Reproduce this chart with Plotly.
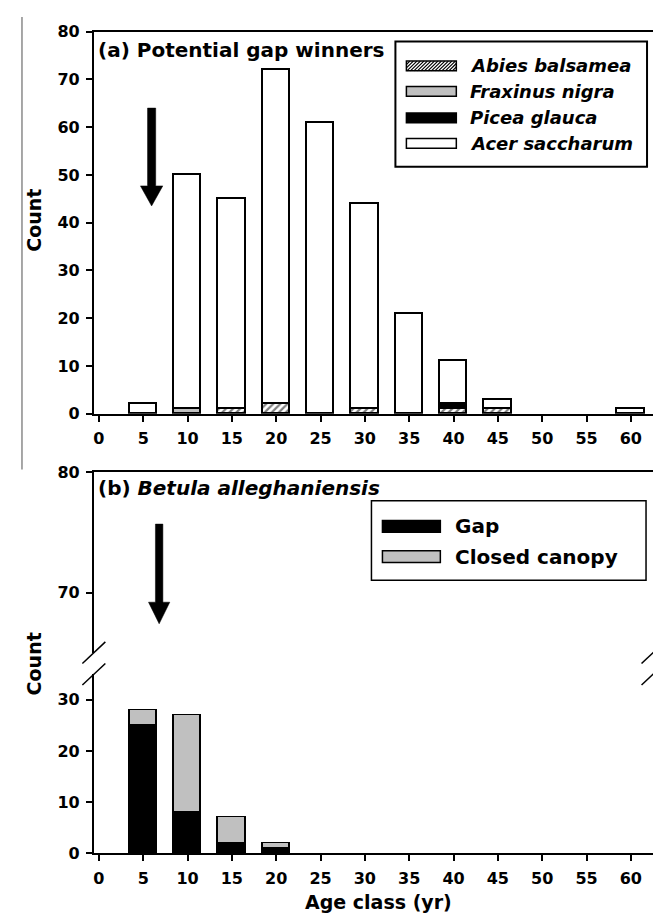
import plotly.graph_objects as go

# ---------------- data ----------------
age_classes = [5, 10, 15, 20, 25, 30, 35, 40, 45, 50, 55, 60]
x_ticks = [0, 5, 10, 15, 20, 25, 30, 35, 40, 45, 50, 55, 60]

abies_balsamea = [0, 0, 1, 2, 0, 1, 0, 1, 1, 0, 0, 0]
fraxinus_nigra = [0, 1, 0, 0, 0, 0, 0, 0, 0, 0, 0, 0]
picea_glauca = [0, 0, 0, 0, 0, 0, 0, 1, 0, 0, 0, 0]
acer_saccharum = [2, 49, 44, 70, 61, 43, 21, 9, 2, 0, 0, 1]

betula_gap = [25, 8, 2, 1, 0, 0, 0, 0, 0, 0, 0, 0]
betula_closed = [3, 19, 5, 1, 0, 0, 0, 0, 0, 0, 0, 0]

top_y_ticks = [0, 10, 20, 30, 40, 50, 60, 70, 80]
low_y_ticks = [0, 10, 20, 30]
up_y_ticks = [70, 80]

# ---------------- geometry helpers ----------------
W, H = 661, 924
FONT = "DejaVu Sans"
GREY = "#c0c0c0"


def px(x):
    return x / W


def py(y):
    return 1 - y / H


def nz(values):
    # empty segments are not drawn (avoid zero-height outlines)
    return [v if v else None for v in values]


BAR_W = 3.1
LINE = dict(color="black", width=1.5)

fig = go.Figure()

# top panel bars
fig.add_trace(go.Bar(x=age_classes, y=nz(abies_balsamea), width=BAR_W, name="Abies balsamea",
                     marker=dict(color="white", line=LINE,
                                 pattern=dict(shape="/", fgcolor="black", bgcolor="white",
                                              size=5, solidity=0.45)),
                     xaxis="x", yaxis="y", showlegend=False))
fig.add_trace(go.Bar(x=age_classes, y=nz(fraxinus_nigra), width=BAR_W, name="Fraxinus nigra",
                     marker=dict(color=GREY, line=LINE), xaxis="x", yaxis="y", showlegend=False))
fig.add_trace(go.Bar(x=age_classes, y=nz(picea_glauca), width=BAR_W, name="Picea glauca",
                     marker=dict(color="black", line=LINE), xaxis="x", yaxis="y", showlegend=False))
fig.add_trace(go.Bar(x=age_classes, y=nz(acer_saccharum), width=BAR_W, name="Acer saccharum",
                     marker=dict(color="white", line=LINE), xaxis="x", yaxis="y", showlegend=False))

# bottom panel bars (lower segment of broken axis)
fig.add_trace(go.Bar(x=age_classes, y=nz(betula_gap), width=BAR_W, name="Gap",
                     marker=dict(color="black", line=LINE), xaxis="x2", yaxis="y2", showlegend=False))
fig.add_trace(go.Bar(x=age_classes, y=nz(betula_closed), width=BAR_W, name="Closed canopy",
                     marker=dict(color=GREY, line=LINE), xaxis="x2", yaxis="y2", showlegend=False))
# upper segment (empty, just to instantiate the subplot)
fig.add_trace(go.Bar(x=[], y=[], xaxis="x3", yaxis="y3", showlegend=False))

XR = [-0.563, 62.5]
XDOM = [px(85), px(645)]
tickfont = dict(family=FONT, size=16, color="black", weight="bold")
common_x = dict(range=XR, domain=XDOM, showgrid=False, zeroline=False, showline=True,
                linecolor="black", linewidth=2, ticks="outside", ticklen=6, tickwidth=1.5,
                tickcolor="black", tickmode="array", tickvals=x_ticks, tickfont=tickfont,
                ticklabelstandoff=3)
common_y = dict(showgrid=False, zeroline=False, showline=True, mirror=True, linecolor="black",
                linewidth=2, ticks="outside", ticklen=6, tickwidth=1.5, tickcolor="black",
                tickmode="array", tickfont=tickfont, ticklabelstandoff=3)

fig.update_layout(
    width=W, height=H, autosize=False, margin=dict(l=0, r=0, t=0, b=0),
    paper_bgcolor="white", plot_bgcolor="white", barmode="stack", bargap=0,
    xaxis=dict(**common_x, anchor="y", mirror=True),
    yaxis=dict(**common_y, range=[0, 80], domain=[py(405), py(15)], tickvals=top_y_ticks,
               anchor="x"),
    xaxis2=dict(**common_x, anchor="y2", mirror=False),
    yaxis2=dict(**common_y, range=[0, 35], domain=[py(854), py(671)], tickvals=low_y_ticks,
                anchor="x2"),
    xaxis3=dict(range=XR, domain=XDOM, anchor="y3", side="top", showline=True, linecolor="black",
                linewidth=2, showgrid=False, zeroline=False, ticks="", showticklabels=False),
    yaxis3=dict(**common_y, range=[65, 80], domain=[py(649), py(465)], tickvals=up_y_ticks,
                anchor="x3"),
    font=dict(family=FONT, color="black"),
)

shapes = []
annotations = []


def arrow(xref, yref, xc, y_top, y_head, y_tip, half_shaft, half_head):
    path = (f"M{xc - half_shaft},{y_top} L{xc + half_shaft},{y_top} L{xc + half_shaft},{y_head} "
            f"L{xc + half_head},{y_head} L{xc},{y_tip} L{xc - half_head},{y_head} "
            f"L{xc - half_shaft},{y_head} Z")
    return dict(type="path", xref=xref, yref=yref, path=path, fillcolor="black",
                line=dict(color="black", width=0.5))


shapes.append(arrow("x", "y", 5.95, 64.0, 47.7, 43.5, 0.46, 1.26))
shapes.append(arrow("x3", "y3", 6.8, 75.7, 69.2, 67.4, 0.42, 1.2))

# axis-break slashes
for sx in (85, 645):
    for cy in (649, 671):
        shapes.append(dict(type="line", xref="paper", yref="paper",
                           x0=px(sx - 11.5), y0=py(cy + 11), x1=px(sx + 11.5), y1=py(cy - 11),
                           line=dict(color="black", width=1.5)))

# stray grey vertical line at the left edge (scan artefact in the original)
shapes.append(dict(type="line", xref="paper", yref="paper", x0=px(13), x1=px(13),
                   y0=py(0), y1=py(462), line=dict(color="#8a8a8a", width=1.5)))


def rect(x0, y0, x1, y1, fill, lw=1.5):
    return dict(type="rect", xref="paper", yref="paper", x0=px(x0), x1=px(x1), y0=py(y1), y1=py(y0),
                fillcolor=fill, line=dict(color="black", width=lw))


# ---------- top legend ----------
shapes.append(rect(387, 25, 639, 153, "rgba(0,0,0,0)", 2))
top_legend = [("Abies balsamea", "hatch", 50), ("Fraxinus nigra", GREY, 76),
              ("Picea glauca", "black", 103), ("Acer saccharum", "white", 129)]
SX0, SX1 = 398, 448
for label, fill, cy in top_legend:
    y0, y1 = cy - 5, cy + 5
    if fill == "hatch":
        shapes.append(rect(SX0, y0, SX1, y1, "white"))
        segs = []
        h = y1 - y0
        t = SX0 - h
        while t < SX1:
            xa, ya, xb, yb = t, y1, t + h, y0
            if xa < SX0:
                d = SX0 - xa
                xa, ya = SX0, y1 - d
            if xb > SX1:
                d = xb - SX1
                xb, yb = SX1, y0 + d
            if xb > xa:
                segs.append(f"M{px(xa)},{py(ya)} L{px(xb)},{py(yb)}")
            t += 3.5
        shapes.append(dict(type="path", xref="paper", yref="paper", path=" ".join(segs),
                           line=dict(color="black", width=1.2)))
    else:
        shapes.append(rect(SX0, y0, SX1, y1, fill))
    annotations.append(dict(xref="paper", yref="paper", x=px(460), y=py(cy), xanchor="left",
                            yanchor="middle", showarrow=False,
                            text=f"<b><i>{label}</i></b>",
                            font=dict(family=FONT, size=18, color="black")))

# ---------- bottom legend ----------
shapes.append(rect(363, 494, 638, 575, "rgba(0,0,0,0)", 1.5))
for label, fill, cy in [("Gap", "black", 520), ("Closed canopy", GREY, 551)]:
    shapes.append(rect(374, cy - 6, 432, cy + 6, fill))
    annotations.append(dict(xref="paper", yref="paper", x=px(445), y=py(cy), xanchor="left",
                            yanchor="middle", showarrow=False, text=f"<b>{label}</b>",
                            font=dict(family=FONT, size=20, color="black")))

# ---------- panel titles ----------
annotations.append(dict(xref="paper", yref="paper", x=px(87), y=py(34), xanchor="left",
                        yanchor="middle", showarrow=False,
                        text="<b>(a) Potential gap winners</b>",
                        font=dict(family=FONT, size=20, color="black")))
annotations.append(dict(xref="paper", yref="paper", x=px(87), y=py(481), xanchor="left",
                        yanchor="middle", showarrow=False,
                        text="<b>(b) <i>Betula alleghaniensis</i></b>",
                        font=dict(family=FONT, size=20, color="black")))

# ---------- axis titles ----------
for cy in (207, 660):
    annotations.append(dict(xref="paper", yref="paper", x=px(25), y=py(cy), xanchor="center",
                            yanchor="middle", showarrow=False, textangle=-90, text="<b>Count</b>",
                            font=dict(family=FONT, size=19, color="black")))
annotations.append(dict(xref="paper", yref="paper", x=px(370), y=py(904), xanchor="center",
                        yanchor="middle", showarrow=False, text="<b>Age class (yr)</b>",
                        font=dict(family=FONT, size=19, color="black")))

fig.update_layout(shapes=shapes, annotations=annotations)
fig.write_html("out.html")
